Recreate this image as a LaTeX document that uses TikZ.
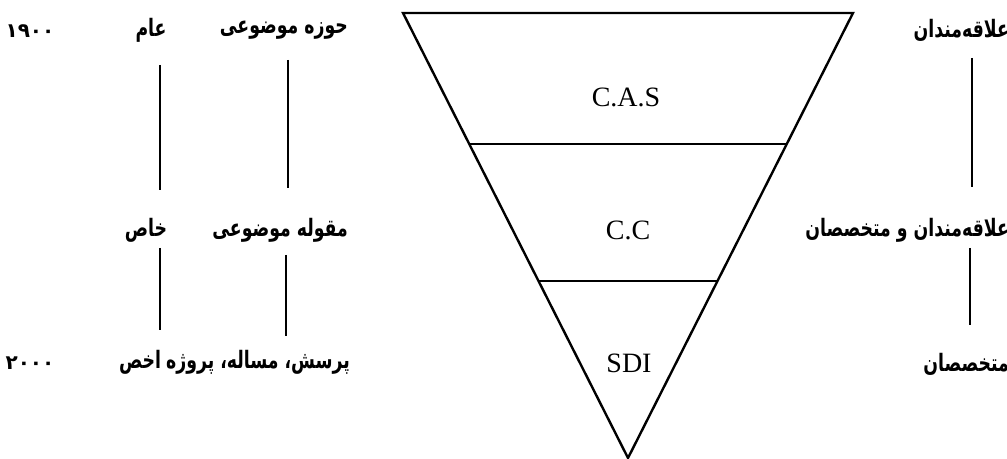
\documentclass[tikz,border=0pt]{standalone}
\usepackage{fontspec}
\setmainfont{Liberation Serif}
\newfontfamily\farsi[Script=Arabic,FakeStretch=0.72]{DejaVu Sans}
\newfontfamily\farsinum{DejaVu Sans}
\TeXXeTstate=1
\usetikzlibrary{calc}
\tikzset{
  fa/.style={font=\farsi\bfseries\fontsize{12}{14}\selectfont,inner sep=0pt},
  yr/.style={font=\farsinum\bfseries\fontsize{10}{12}\selectfont,inner sep=0pt},
  lvl/.style={font=\fontsize{14}{16}\selectfont,inner sep=0pt}
}
\begin{document}
\begin{tikzpicture}[x=0.5pt,y=-0.5pt,line width=1.2pt]
\useasboundingbox (0,0) rectangle (1007,459);
% funnel
\coordinate (tl) at (403,13);\coordinate (tr) at (853,13);\coordinate (ap) at (628,458);
\draw[line width=1.2pt,line join=miter] (tl)--(tr)--(ap)--cycle;
\draw ($(tl)!0.2944!(ap)$)--($(tr)!0.2944!(ap)$);
\draw ($(tl)!0.6022!(ap)$)--($(tr)!0.6022!(ap)$);
\node[lvl] (cas) at (626,97) {C.A.S};\node[lvl] (cc) at (628,230) {C.C};\node[lvl] (sdi) at (629,363) {SDI};
% years
\node[yr] (y1) at (30,31) {۱۹۰۰};\node[yr] (y2) at (30,363) {۲۰۰۰};
% scope column
\node[fa] (aam) at (151,30) {\beginR عام\endR};
\node[fa] (khas) at (146,230) {\beginR خاص\endR};
\node[fa] (akhas) at (140,362) {\beginR اخص\endR};
\node[fa,anchor=east] (hoze) at (349,30) {\beginR حوزه موضوعی\endR};
\node[fa,anchor=east] (maghule) at (349,230) {\beginR مقوله موضوعی\endR};
\node[fa,anchor=east] (porsesh) at (351,362) {\beginR پرسش، مساله، پروژه\endR};
% users
\node[fa,anchor=east] (ala) at (1010,30) {\beginR علاقه‌مندان\endR};
\node[fa,anchor=east] (alamot) at (1010,230) {\beginR علاقه‌مندان و متخصصان\endR};
\node[fa,anchor=east] (mot) at (1010,364) {\beginR متخصصان\endR};
% links
\coordinate (a1) at (160,65);\coordinate (a2) at (160,190);\coordinate (a3) at (160,248);\coordinate (a4) at (160,330);
\coordinate (b1) at (288,60);\coordinate (b2) at (288,188);\coordinate (b3) at (286,255);\coordinate (b4) at (286,336);
\coordinate (c1) at (972,58);\coordinate (c2) at (972,187);\coordinate (c3) at (970,248);\coordinate (c4) at (970,325);
\draw (a1)--(a2);\draw (a3)--(a4);\draw (b1)--(b2);\draw (b3)--(b4);\draw (c1)--(c2);\draw (c3)--(c4);
\end{tikzpicture}
\end{document}
